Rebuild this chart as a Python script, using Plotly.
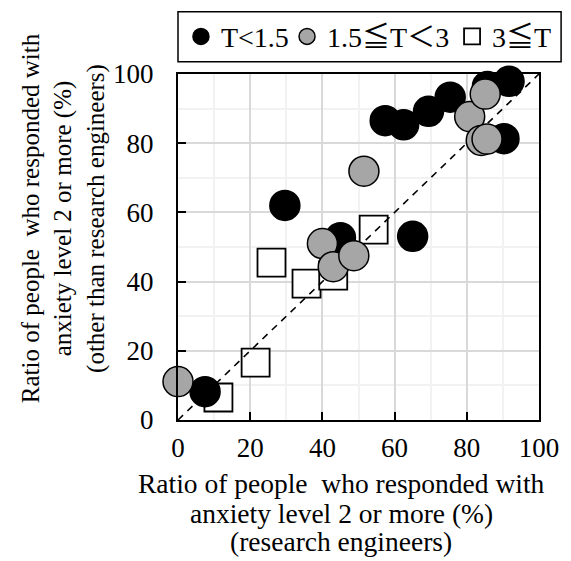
import plotly.graph_objects as go

# ---- data ----
black_x = [7.5, 29.6, 45.0, 57.4, 62.5, 69.4, 75.4, 85.7, 91.7, 90.3, 65.0]
black_y = [8.2, 62.0, 52.7, 86.5, 85.3, 89.2, 93.3, 96.4, 97.9, 81.3, 53.1]

gray_x = [0.0, 40.0, 43.0, 48.7, 51.5, 80.8, 84.0, 85.6, 85.1]
gray_y = [11.1, 51.0, 44.3, 47.5, 71.9, 87.7, 80.8, 81.2, 94.2]

sq_x = [11.2, 21.5, 25.9, 35.6, 43.0, 54.2]
sq_y = [6.5, 16.6, 45.5, 39.4, 41.7, 55.0]

ref_x = [0, 100]
ref_y = [0, 100]

labels = ["T&lt;1.5", "1.5≦T＜3", "3≦T"]
ticks = [0, 20, 40, 60, 80, 100]

x_title_lines = ["Ratio of people  who responded with",
                 "anxiety level 2 or more (%)",
                 "(research engineers)"]
y_title = ("Ratio of people  who responded with<br>anxiety level 2 or more (%)"
           "<br>(other than research engineers)")

FONT = "Liberation Serif, Times New Roman, Noto Sans CJK JP, serif"

# plot-area geometry in pixels (for placing text outside the axes)
W, H = 571, 561
L_PX, R_PX, T_PX, B_PX = 178, 545.5, 74.3, 420.5
PW, PH = R_PX - L_PX, B_PX - T_PX


def px_x(x):
    return (x - L_PX) / PW


def px_y(y):
    return (B_PX - y) / PH


fig = go.Figure()

fig.add_trace(go.Scatter(
    x=sq_x, y=sq_y, mode="markers", name=labels[2], legend="legend3",
    marker=dict(symbol="square", size=28, color="white",
                line=dict(color="black", width=1.8)),
    cliponaxis=False))

fig.add_trace(go.Scatter(
    x=ref_x, y=ref_y, mode="lines", showlegend=False,
    line=dict(color="black", width=1.6, dash="7px,6px"),
    cliponaxis=False))

fig.add_trace(go.Scatter(
    x=black_x, y=black_y, mode="markers", name=labels[0], legend="legend",
    marker=dict(symbol="circle", size=30, color="black",
                line=dict(color="black", width=1.5)),
    cliponaxis=False))

fig.add_trace(go.Scatter(
    x=gray_x, y=gray_y, mode="markers", name=labels[1], legend="legend2",
    marker=dict(symbol="circle", size=30, color="#a6a6a6",
                line=dict(color="black", width=1.5)),
    cliponaxis=False))

axis_common = dict(
    range=[0, 100], tickvals=ticks, ticktext=[str(t) for t in ticks],
    ticks="inside", ticklen=8, tickwidth=1.5, tickcolor="black",
    showline=True, mirror=True, linecolor="black", linewidth=2,
    showgrid=True, gridcolor="#d9d9d9", gridwidth=1.5,
    zeroline=False,
    minor=dict(dtick=10, showgrid=True, gridcolor="#f2f2f2", gridwidth=1.5),
    tickfont=dict(family=FONT, size=27, color="black"),
    fixedrange=True,
)

fig.update_xaxes(**axis_common, ticklabelstandoff=3)
fig.update_yaxes(**axis_common, ticklabelstandoff=17)

for line_txt, yc in zip(x_title_lines, [484, 514, 542.5]):
    fig.add_annotation(text=line_txt, xref="paper", yref="paper",
                       x=px_x(344), y=px_y(yc), xanchor="center", yanchor="middle",
                       showarrow=False, font=dict(family=FONT, size=27.5, color="black"))

fig.add_annotation(text=y_title, xref="paper", yref="paper", x=px_x(61), y=px_y(218.5),
                   xanchor="center", yanchor="middle", showarrow=False, textangle=-90,
                   font=dict(family=FONT, size=25, color="black"))

# legend frame
fig.add_shape(type="rect", xref="paper", yref="paper",
              x0=px_x(178), x1=px_x(568), y0=px_y(62), y1=px_y(12),
              line=dict(color="black", width=1.5), fillcolor="white", layer="below")

leg_common = dict(orientation="h", xanchor="left", yanchor="middle", y=px_y(37),
                  bgcolor="rgba(0,0,0,0)", borderwidth=0,
                  font=dict(family=FONT, size=28, color="black"))

fig.update_layout(
    width=W, height=H,
    margin=dict(l=L_PX, r=W - R_PX, t=T_PX, b=H - B_PX),
    plot_bgcolor="white", paper_bgcolor="white",
    legend=dict(x=px_x(181), **leg_common),
    legend2=dict(x=px_x(289), **leg_common),
    legend3=dict(x=px_x(457), **leg_common),
)

fig.write_html("out.html")
